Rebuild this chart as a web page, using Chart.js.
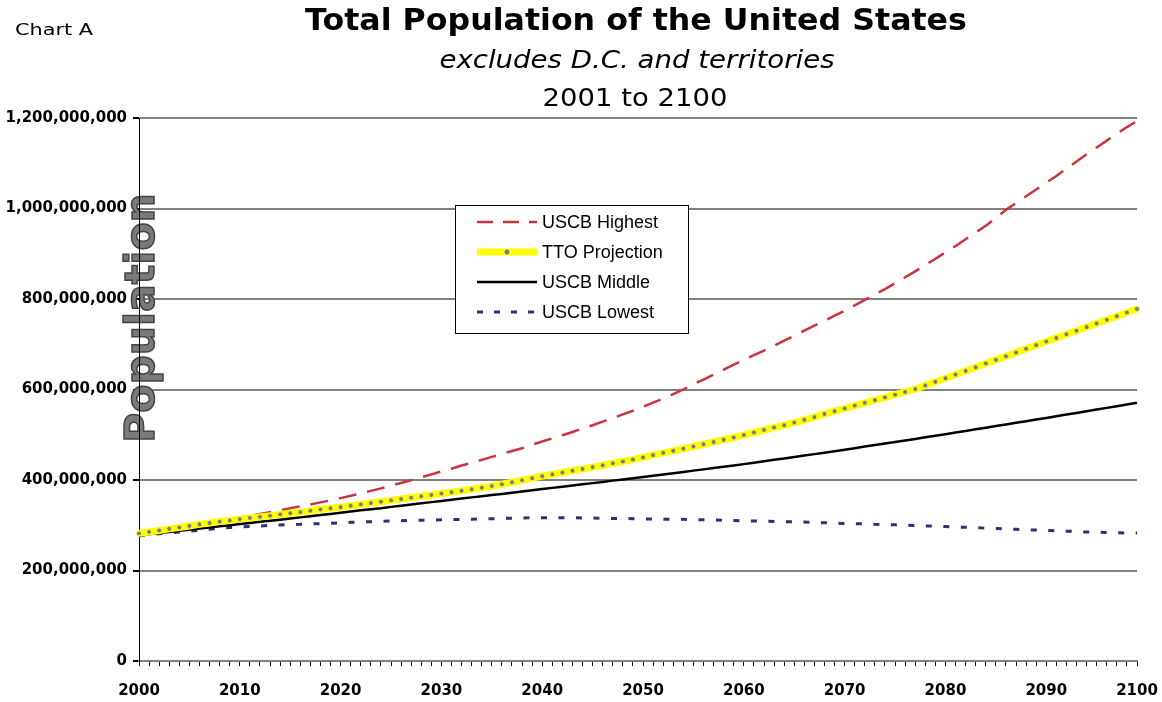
<!DOCTYPE html>
<html>
<head>
<meta charset="utf-8">
<script src="https://cdn.jsdelivr.net/npm/chart.js@4.4.1/dist/chart.umd.min.js"></script>
<style>
  html, body { margin: 0; padding: 0; background: #fff; }
  #wrap { width: 1162px; height: 702px; position: relative; }
</style>
</head>
<body>
<div id="wrap"><canvas id="grafico"></canvas></div>
<script>
// años 2001..2100
const years = Array.from({ length: 100 }, (_, i) => String(2001 + i));
const tickLabels = ['2000', '2010', '2020', '2030', '2040', '2050', '2060', '2070', '2080', '2090', '2100'];

// millones de personas
const uscbHighest = [
  280, 283.5, 287, 290.5, 294, 298, 301.5, 305, 309, 313,
  317, 321, 325, 329, 333, 337.5, 342, 346, 350.5, 355,
  360, 365, 370.5, 376, 381.5, 387.5, 393.5, 399.5, 406, 412.5,
  419, 425, 432, 438, 444.5, 451, 457.5, 464, 470, 478,
  485, 492, 499, 506, 514, 521, 529, 537, 545, 553,
  562, 571, 580, 590, 600, 612, 622, 633, 644, 655,
  665.5, 676, 686, 697, 708, 719, 730, 741, 752, 763,
  774, 786, 798, 810, 822, 835, 848, 861, 875, 889,
  903, 917, 932, 947, 962, 979, 997, 1012, 1027, 1042,
  1057, 1072, 1088, 1104, 1120, 1135, 1150, 1165, 1180, 1193
];
const ttoProjection = [
  282, 285, 288.5, 292, 295, 298.5, 302, 305, 308, 310.5,
  313.5, 316, 318.5, 321, 324, 326.5, 329, 332, 335, 337.5,
  340, 343, 346, 349, 352, 355, 358, 361, 364, 367,
  370, 373, 376, 379.5, 383, 386.5, 390.5, 395, 399.5, 404,
  408.5, 412.5, 416.5, 420.5, 424.5, 428.5, 432.5, 437, 441, 445.5,
  450, 455, 460, 464.5, 469, 474, 479, 484, 489, 494,
  499.5, 505, 510.5, 516, 521, 527, 533, 539, 546, 552,
  558, 564.5, 570.5, 576.5, 582.5, 588.5, 594.5, 601, 609, 617,
  625, 633, 641, 649, 657.5, 665.5, 673.5, 681.5, 690, 698,
  706, 714, 722, 730, 738, 746, 754, 762, 770, 778
];
const uscbMiddle = [
  277.8, 280.3, 282.8, 285.3, 287.7, 290.2, 292.7, 295.2, 297.7, 299.9,
  302.6, 305.1, 307.6, 310.1, 312.3, 314.9, 317.4, 320.0, 322.5, 324.9,
  327.6, 330.3, 332.9, 335.6, 337.8, 340.6, 343.3, 346.0, 348.7, 351.1,
  353.7, 356.3, 359.0, 361.6, 364.0, 366.6, 369.3, 372.0, 374.7, 377.4,
  380.0, 382.6, 385.3, 388.0, 390.4, 393.1, 395.8, 398.6, 401.1, 403.7,
  406.5, 409.3, 412.1, 414.9, 417.9, 420.7, 423.5, 426.3, 429.2, 432.0,
  435.1, 438.2, 441.4, 444.6, 447.6, 450.8, 454.0, 457.2, 460.4, 463.6,
  467.0, 470.4, 473.8, 477.2, 480.5, 483.9, 487.3, 490.8, 494.3, 497.8,
  501.3, 504.9, 508.5, 512.1, 515.6, 519.2, 522.8, 526.4, 530.0, 533.6,
  537.2, 540.9, 544.6, 548.3, 551.9, 555.6, 559.4, 563.1, 566.9, 570.9
];
const uscbLowest = [
  277, 279, 281, 283, 285, 287, 289, 291, 293, 295,
  296, 297.5, 298.5, 299.5, 300.5, 301.5, 302, 303, 303.5, 304.5,
  305.5, 306.5, 307, 308, 308.5, 309.5, 310, 310.5, 311, 311.5,
  312, 312.5, 313, 313.5, 314, 314.5, 315, 315.5, 316, 316.5,
  316.5, 316.5, 316.5, 316.5, 316, 316, 315.5, 315, 315, 314.5,
  314, 314, 313.5, 313, 313, 312.5, 312, 311.5, 311, 310.5,
  310, 309.5, 309, 308.5, 308, 307.5, 307, 306, 305.5, 305,
  304, 303.5, 303, 302, 301.5, 301, 300, 299.5, 298.5, 298,
  297, 296, 295.5, 294.5, 293.5, 293, 292, 291, 290, 289.5,
  288.5, 287.5, 287, 286, 285, 284.5, 284, 283.5, 283, 282.7
];

const M = 1000000;
const toPeople = (arr) => arr.map((v) => v * M);

const grafico = document.getElementById('grafico');

// texto estirado a lo ancho como en el original
const textoAncho = (ctx, txt, x, y, sx) => {
  ctx.save();
  ctx.translate(x, y);
  ctx.scale(sx, 1);
  ctx.fillText(txt, 0, 0);
  ctx.restore();
};

const textosPlugin = {
  id: 'textos',
  beforeDatasetsDraw(chart) {
    const ctx = chart.ctx;
    const a = chart.chartArea;
    ctx.save();
    ctx.translate(a.left + 4, a.top + 200);
    ctx.rotate(-Math.PI / 2);
    ctx.font = 'bold 41px "DejaVu Sans"';
    ctx.textAlign = 'center';
    ctx.textBaseline = 'middle';
    ctx.lineWidth = 1.5;
    ctx.strokeStyle = '#444';
    ctx.fillStyle = '#7a7a7a';
    ctx.fillText('Population', 0, 0);
    ctx.strokeText('Population', 0, 0);
    ctx.restore();
    // linea del eje por encima del texto
    ctx.save();
    ctx.strokeStyle = '#000';
    ctx.lineWidth = 1;
    ctx.beginPath();
    ctx.moveTo(a.left + 0.5, a.top);
    ctx.lineTo(a.left + 0.5, a.bottom);
    ctx.stroke();
    ctx.restore();
  },
  afterDraw(chart) {
    const ctx = chart.ctx;
    ctx.save();
    ctx.fillStyle = '#000';
    ctx.textBaseline = 'alphabetic';
    ctx.textAlign = 'left';
    ctx.font = '16px "DejaVu Sans"';
    textoAncho(ctx, 'Chart A', 15, 35, 1.3);
    ctx.textAlign = 'center';
    ctx.font = 'bold 30px "DejaVu Sans"';
    textoAncho(ctx, 'Total Population of the United States', 636, 30, 1.055);
    ctx.font = 'italic 24px "DejaVu Sans"';
    textoAncho(ctx, 'excludes D.C. and territories', 637, 68, 1.15);
    ctx.font = '24px "DejaVu Sans"';
    textoAncho(ctx, '2001 to 2100', 635, 106, 1.145);
    ctx.restore();
  }
};

// leyenda dibujada dentro del area del grafico
const leyendaPlugin = {
  id: 'leyenda',
  afterDatasetsDraw(chart) {
    const ctx = chart.ctx;
    const box = { x: 455.5, y: 205.5, w: 233, h: 128 };
    const rows = [222, 252, 282, 312];
    ctx.save();
    ctx.fillStyle = '#fff';
    ctx.fillRect(box.x, box.y, box.w, box.h);
    ctx.strokeStyle = '#000';
    ctx.lineWidth = 1;
    ctx.strokeRect(box.x, box.y, box.w, box.h);
    chart.data.datasets.forEach((ds, i) => {
      const y = rows[i];
      ctx.save();
      ctx.strokeStyle = ds.borderColor;
      ctx.lineWidth = ds.borderWidth;
      ctx.setLineDash(ds.legendDash || []);
      ctx.beginPath();
      ctx.moveTo(477, y);
      ctx.lineTo(537, y);
      ctx.stroke();
      ctx.setLineDash([]);
      if (ds.pointRadius) {
        ctx.beginPath();
        ctx.arc(507, y, ds.pointRadius, 0, Math.PI * 2);
        ctx.fillStyle = ds.pointBackgroundColor;
        ctx.fill();
      }
      ctx.restore();
      ctx.fillStyle = '#000';
      ctx.font = '18px "Liberation Sans"';
      ctx.textAlign = 'left';
      ctx.textBaseline = 'middle';
      ctx.fillText(ds.label, 542, y + 1);
    });
    ctx.restore();
  }
};

new Chart(grafico, {
  type: 'line',
  data: {
    labels: years,
    datasets: [
      {
        label: 'USCB Highest',
        data: toPeople(uscbHighest),
        borderColor: '#CC3340',
        borderWidth: 2.5,
        borderDash: [18, 11],
        legendDash: [16, 10],
        pointRadius: 0,
        tension: 0,
        order: 2
      },
      {
        label: 'TTO Projection',
        data: toPeople(ttoProjection),
        borderColor: '#FFFF00',
        borderWidth: 7,
        pointRadius: 2.5,
        pointBackgroundColor: '#7a7a8a',
        pointBorderColor: '#FFFF00',
        pointBorderWidth: 1,
        tension: 0,
        order: 0
      },
      {
        label: 'USCB Middle',
        data: toPeople(uscbMiddle),
        borderColor: '#000000',
        borderWidth: 2.5,
        pointRadius: 0,
        tension: 0,
        order: 1
      },
      {
        label: 'USCB Lowest',
        data: toPeople(uscbLowest),
        borderColor: '#2B3270',
        borderWidth: 3,
        borderDash: [6, 11.5],
        legendDash: [6, 11],
        pointRadius: 0,
        tension: 0,
        order: 3
      }
    ]
  },
  options: {
    responsive: true,
    maintainAspectRatio: false,
    animation: false,
    layout: { padding: { top: 118, right: 25, left: 0, bottom: 0 } },
    plugins: {
      legend: { display: false },
      title: { display: false },
      tooltip: { enabled: false }
    },
    scales: {
      x: {
        type: 'category',
        offset: false,
        afterFit: (scale) => {
          scale.height = 41;
          scale.paddingLeft = 0;
          scale.paddingRight = 0;
        },
        grid: {
          drawOnChartArea: false,
          drawTicks: true,
          tickLength: 5,
          tickColor: '#000'
        },
        border: { color: '#808080', width: 2 },
        ticks: {
          autoSkip: false,
          maxRotation: 0,
          minRotation: 0,
          padding: 16,
          color: '#000',
          font: { family: 'DejaVu Sans', size: 15, weight: 'bold' },
          callback: (value, index) => {
            if (index % 10 === 0) return tickLabels[index / 10];
            if (index === years.length - 1) return tickLabels[tickLabels.length - 1];
            return '';
          }
        }
      },
      y: {
        min: 0,
        max: 1200000000,
        afterFit: (scale) => { scale.width = 139; },
        grid: {
          color: '#808080',
          lineWidth: 2,
          tickLength: 6,
          tickColor: '#000'
        },
        border: { color: '#000', width: 1 },
        ticks: {
          stepSize: 200000000,
          padding: 6,
          color: '#000',
          font: { family: 'DejaVu Sans', size: 15, weight: 'bold' },
          callback: (value) => value.toLocaleString('en-US')
        }
      }
    }
  },
  plugins: [textosPlugin, leyendaPlugin]
});
</script>
</body>
</html>
